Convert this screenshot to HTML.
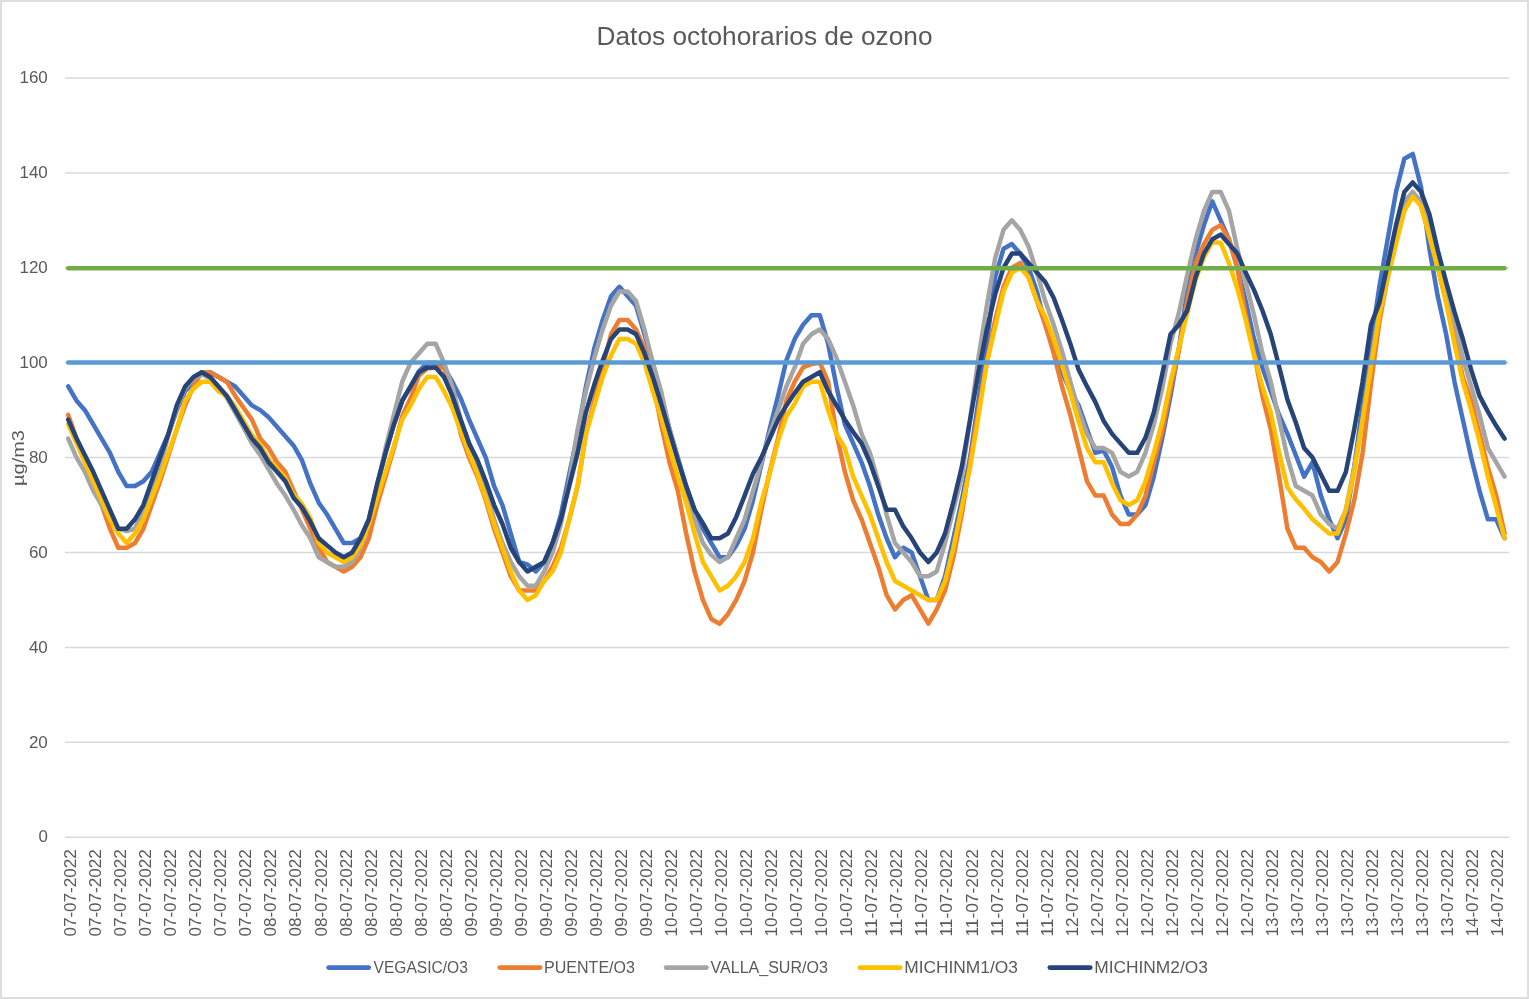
<!DOCTYPE html>
<html><head><meta charset="utf-8"><title>Datos octohorarios de ozono</title>
<style>
html,body{margin:0;padding:0;background:#fff;}
body{width:1529px;height:999px;overflow:hidden;font-family:"Liberation Sans", sans-serif;}
svg{display:block;will-change:transform;}
text{font-family:"Liberation Sans", sans-serif;fill:#595959;}
</style></head><body>
<svg width="1529" height="999" viewBox="0 0 1529 999">
<rect x="0" y="0" width="1529" height="999" fill="#ffffff"/>
<rect x="1" y="1" width="1527" height="997" fill="none" stroke="#DEDEDE" stroke-width="2"/>

<text x="764.5" y="45" font-size="25.6" text-anchor="middle" textLength="336" lengthAdjust="spacingAndGlyphs">Datos octohorarios de ozono</text>
<line x1="65.0" y1="837.20" x2="1509.0" y2="837.20" stroke="#D9D9D9" stroke-width="1.5"/>
<text x="47.8" y="842.40" font-size="16.8" text-anchor="end" textLength="9.4" lengthAdjust="spacingAndGlyphs">0</text>
<line x1="65.0" y1="742.30" x2="1509.0" y2="742.30" stroke="#D9D9D9" stroke-width="1.5"/>
<text x="47.8" y="747.50" font-size="16.8" text-anchor="end" textLength="18.9" lengthAdjust="spacingAndGlyphs">20</text>
<line x1="65.0" y1="647.40" x2="1509.0" y2="647.40" stroke="#D9D9D9" stroke-width="1.5"/>
<text x="47.8" y="652.60" font-size="16.8" text-anchor="end" textLength="18.9" lengthAdjust="spacingAndGlyphs">40</text>
<line x1="65.0" y1="552.50" x2="1509.0" y2="552.50" stroke="#D9D9D9" stroke-width="1.5"/>
<text x="47.8" y="557.70" font-size="16.8" text-anchor="end" textLength="18.9" lengthAdjust="spacingAndGlyphs">60</text>
<line x1="65.0" y1="457.60" x2="1509.0" y2="457.60" stroke="#D9D9D9" stroke-width="1.5"/>
<text x="47.8" y="462.80" font-size="16.8" text-anchor="end" textLength="18.9" lengthAdjust="spacingAndGlyphs">80</text>
<line x1="65.0" y1="362.70" x2="1509.0" y2="362.70" stroke="#D9D9D9" stroke-width="1.5"/>
<text x="47.8" y="367.90" font-size="16.8" text-anchor="end" textLength="28.3" lengthAdjust="spacingAndGlyphs">100</text>
<line x1="65.0" y1="267.80" x2="1509.0" y2="267.80" stroke="#D9D9D9" stroke-width="1.5"/>
<text x="47.8" y="273.00" font-size="16.8" text-anchor="end" textLength="28.3" lengthAdjust="spacingAndGlyphs">120</text>
<line x1="65.0" y1="172.90" x2="1509.0" y2="172.90" stroke="#D9D9D9" stroke-width="1.5"/>
<text x="47.8" y="178.10" font-size="16.8" text-anchor="end" textLength="28.3" lengthAdjust="spacingAndGlyphs">140</text>
<line x1="65.0" y1="78.00" x2="1509.0" y2="78.00" stroke="#D9D9D9" stroke-width="1.5"/>
<text x="47.8" y="83.20" font-size="16.8" text-anchor="end" textLength="28.3" lengthAdjust="spacingAndGlyphs">160</text>
<text transform="translate(24.3,458) rotate(-90)" font-size="16.9" text-anchor="middle" textLength="56" lengthAdjust="spacingAndGlyphs">µg/m3</text>
<text transform="translate(76.10,849.2) rotate(-90)" font-size="16.4" text-anchor="end" textLength="87.4" lengthAdjust="spacingAndGlyphs">07-07-2022</text>
<text transform="translate(101.14,849.2) rotate(-90)" font-size="16.4" text-anchor="end" textLength="87.4" lengthAdjust="spacingAndGlyphs">07-07-2022</text>
<text transform="translate(126.18,849.2) rotate(-90)" font-size="16.4" text-anchor="end" textLength="87.4" lengthAdjust="spacingAndGlyphs">07-07-2022</text>
<text transform="translate(151.22,849.2) rotate(-90)" font-size="16.4" text-anchor="end" textLength="87.4" lengthAdjust="spacingAndGlyphs">07-07-2022</text>
<text transform="translate(176.26,849.2) rotate(-90)" font-size="16.4" text-anchor="end" textLength="87.4" lengthAdjust="spacingAndGlyphs">07-07-2022</text>
<text transform="translate(201.30,849.2) rotate(-90)" font-size="16.4" text-anchor="end" textLength="87.4" lengthAdjust="spacingAndGlyphs">07-07-2022</text>
<text transform="translate(226.34,849.2) rotate(-90)" font-size="16.4" text-anchor="end" textLength="87.4" lengthAdjust="spacingAndGlyphs">07-07-2022</text>
<text transform="translate(251.38,849.2) rotate(-90)" font-size="16.4" text-anchor="end" textLength="87.4" lengthAdjust="spacingAndGlyphs">07-07-2022</text>
<text transform="translate(276.42,849.2) rotate(-90)" font-size="16.4" text-anchor="end" textLength="87.4" lengthAdjust="spacingAndGlyphs">08-07-2022</text>
<text transform="translate(301.46,849.2) rotate(-90)" font-size="16.4" text-anchor="end" textLength="87.4" lengthAdjust="spacingAndGlyphs">08-07-2022</text>
<text transform="translate(326.50,849.2) rotate(-90)" font-size="16.4" text-anchor="end" textLength="87.4" lengthAdjust="spacingAndGlyphs">08-07-2022</text>
<text transform="translate(351.53,849.2) rotate(-90)" font-size="16.4" text-anchor="end" textLength="87.4" lengthAdjust="spacingAndGlyphs">08-07-2022</text>
<text transform="translate(376.57,849.2) rotate(-90)" font-size="16.4" text-anchor="end" textLength="87.4" lengthAdjust="spacingAndGlyphs">08-07-2022</text>
<text transform="translate(401.61,849.2) rotate(-90)" font-size="16.4" text-anchor="end" textLength="87.4" lengthAdjust="spacingAndGlyphs">08-07-2022</text>
<text transform="translate(426.65,849.2) rotate(-90)" font-size="16.4" text-anchor="end" textLength="87.4" lengthAdjust="spacingAndGlyphs">08-07-2022</text>
<text transform="translate(451.69,849.2) rotate(-90)" font-size="16.4" text-anchor="end" textLength="87.4" lengthAdjust="spacingAndGlyphs">08-07-2022</text>
<text transform="translate(476.73,849.2) rotate(-90)" font-size="16.4" text-anchor="end" textLength="87.4" lengthAdjust="spacingAndGlyphs">09-07-2022</text>
<text transform="translate(501.77,849.2) rotate(-90)" font-size="16.4" text-anchor="end" textLength="87.4" lengthAdjust="spacingAndGlyphs">09-07-2022</text>
<text transform="translate(526.81,849.2) rotate(-90)" font-size="16.4" text-anchor="end" textLength="87.4" lengthAdjust="spacingAndGlyphs">09-07-2022</text>
<text transform="translate(551.85,849.2) rotate(-90)" font-size="16.4" text-anchor="end" textLength="87.4" lengthAdjust="spacingAndGlyphs">09-07-2022</text>
<text transform="translate(576.89,849.2) rotate(-90)" font-size="16.4" text-anchor="end" textLength="87.4" lengthAdjust="spacingAndGlyphs">09-07-2022</text>
<text transform="translate(601.93,849.2) rotate(-90)" font-size="16.4" text-anchor="end" textLength="87.4" lengthAdjust="spacingAndGlyphs">09-07-2022</text>
<text transform="translate(626.97,849.2) rotate(-90)" font-size="16.4" text-anchor="end" textLength="87.4" lengthAdjust="spacingAndGlyphs">09-07-2022</text>
<text transform="translate(652.01,849.2) rotate(-90)" font-size="16.4" text-anchor="end" textLength="87.4" lengthAdjust="spacingAndGlyphs">09-07-2022</text>
<text transform="translate(677.05,849.2) rotate(-90)" font-size="16.4" text-anchor="end" textLength="87.4" lengthAdjust="spacingAndGlyphs">10-07-2022</text>
<text transform="translate(702.09,849.2) rotate(-90)" font-size="16.4" text-anchor="end" textLength="87.4" lengthAdjust="spacingAndGlyphs">10-07-2022</text>
<text transform="translate(727.13,849.2) rotate(-90)" font-size="16.4" text-anchor="end" textLength="87.4" lengthAdjust="spacingAndGlyphs">10-07-2022</text>
<text transform="translate(752.17,849.2) rotate(-90)" font-size="16.4" text-anchor="end" textLength="87.4" lengthAdjust="spacingAndGlyphs">10-07-2022</text>
<text transform="translate(777.21,849.2) rotate(-90)" font-size="16.4" text-anchor="end" textLength="87.4" lengthAdjust="spacingAndGlyphs">10-07-2022</text>
<text transform="translate(802.25,849.2) rotate(-90)" font-size="16.4" text-anchor="end" textLength="87.4" lengthAdjust="spacingAndGlyphs">10-07-2022</text>
<text transform="translate(827.29,849.2) rotate(-90)" font-size="16.4" text-anchor="end" textLength="87.4" lengthAdjust="spacingAndGlyphs">10-07-2022</text>
<text transform="translate(852.32,849.2) rotate(-90)" font-size="16.4" text-anchor="end" textLength="87.4" lengthAdjust="spacingAndGlyphs">10-07-2022</text>
<text transform="translate(877.36,849.2) rotate(-90)" font-size="16.4" text-anchor="end" textLength="87.4" lengthAdjust="spacingAndGlyphs">11-07-2022</text>
<text transform="translate(902.40,849.2) rotate(-90)" font-size="16.4" text-anchor="end" textLength="87.4" lengthAdjust="spacingAndGlyphs">11-07-2022</text>
<text transform="translate(927.44,849.2) rotate(-90)" font-size="16.4" text-anchor="end" textLength="87.4" lengthAdjust="spacingAndGlyphs">11-07-2022</text>
<text transform="translate(952.48,849.2) rotate(-90)" font-size="16.4" text-anchor="end" textLength="87.4" lengthAdjust="spacingAndGlyphs">11-07-2022</text>
<text transform="translate(977.52,849.2) rotate(-90)" font-size="16.4" text-anchor="end" textLength="87.4" lengthAdjust="spacingAndGlyphs">11-07-2022</text>
<text transform="translate(1002.56,849.2) rotate(-90)" font-size="16.4" text-anchor="end" textLength="87.4" lengthAdjust="spacingAndGlyphs">11-07-2022</text>
<text transform="translate(1027.60,849.2) rotate(-90)" font-size="16.4" text-anchor="end" textLength="87.4" lengthAdjust="spacingAndGlyphs">11-07-2022</text>
<text transform="translate(1052.64,849.2) rotate(-90)" font-size="16.4" text-anchor="end" textLength="87.4" lengthAdjust="spacingAndGlyphs">11-07-2022</text>
<text transform="translate(1077.68,849.2) rotate(-90)" font-size="16.4" text-anchor="end" textLength="87.4" lengthAdjust="spacingAndGlyphs">12-07-2022</text>
<text transform="translate(1102.72,849.2) rotate(-90)" font-size="16.4" text-anchor="end" textLength="87.4" lengthAdjust="spacingAndGlyphs">12-07-2022</text>
<text transform="translate(1127.76,849.2) rotate(-90)" font-size="16.4" text-anchor="end" textLength="87.4" lengthAdjust="spacingAndGlyphs">12-07-2022</text>
<text transform="translate(1152.80,849.2) rotate(-90)" font-size="16.4" text-anchor="end" textLength="87.4" lengthAdjust="spacingAndGlyphs">12-07-2022</text>
<text transform="translate(1177.84,849.2) rotate(-90)" font-size="16.4" text-anchor="end" textLength="87.4" lengthAdjust="spacingAndGlyphs">12-07-2022</text>
<text transform="translate(1202.88,849.2) rotate(-90)" font-size="16.4" text-anchor="end" textLength="87.4" lengthAdjust="spacingAndGlyphs">12-07-2022</text>
<text transform="translate(1227.92,849.2) rotate(-90)" font-size="16.4" text-anchor="end" textLength="87.4" lengthAdjust="spacingAndGlyphs">12-07-2022</text>
<text transform="translate(1252.96,849.2) rotate(-90)" font-size="16.4" text-anchor="end" textLength="87.4" lengthAdjust="spacingAndGlyphs">12-07-2022</text>
<text transform="translate(1278.00,849.2) rotate(-90)" font-size="16.4" text-anchor="end" textLength="87.4" lengthAdjust="spacingAndGlyphs">13-07-2022</text>
<text transform="translate(1303.04,849.2) rotate(-90)" font-size="16.4" text-anchor="end" textLength="87.4" lengthAdjust="spacingAndGlyphs">13-07-2022</text>
<text transform="translate(1328.08,849.2) rotate(-90)" font-size="16.4" text-anchor="end" textLength="87.4" lengthAdjust="spacingAndGlyphs">13-07-2022</text>
<text transform="translate(1353.11,849.2) rotate(-90)" font-size="16.4" text-anchor="end" textLength="87.4" lengthAdjust="spacingAndGlyphs">13-07-2022</text>
<text transform="translate(1378.15,849.2) rotate(-90)" font-size="16.4" text-anchor="end" textLength="87.4" lengthAdjust="spacingAndGlyphs">13-07-2022</text>
<text transform="translate(1403.19,849.2) rotate(-90)" font-size="16.4" text-anchor="end" textLength="87.4" lengthAdjust="spacingAndGlyphs">13-07-2022</text>
<text transform="translate(1428.23,849.2) rotate(-90)" font-size="16.4" text-anchor="end" textLength="87.4" lengthAdjust="spacingAndGlyphs">13-07-2022</text>
<text transform="translate(1453.27,849.2) rotate(-90)" font-size="16.4" text-anchor="end" textLength="87.4" lengthAdjust="spacingAndGlyphs">13-07-2022</text>
<text transform="translate(1478.31,849.2) rotate(-90)" font-size="16.4" text-anchor="end" textLength="87.4" lengthAdjust="spacingAndGlyphs">14-07-2022</text>
<text transform="translate(1503.35,849.2) rotate(-90)" font-size="16.4" text-anchor="end" textLength="87.4" lengthAdjust="spacingAndGlyphs">14-07-2022</text>
<polyline points="68.20,386.43 76.55,400.66 84.90,410.15 93.25,424.39 101.60,438.62 109.96,452.86 118.31,471.84 126.66,486.07 135.01,486.07 143.36,481.33 151.71,471.84 160.06,452.86 168.41,433.88 176.76,410.15 185.11,391.17 193.47,381.68 201.82,372.19 210.17,372.19 218.52,376.94 226.87,381.68 235.22,386.43 243.57,395.92 251.92,405.41 260.27,410.15 268.62,417.27 276.98,426.76 285.33,436.25 293.68,445.74 302.03,460.45 310.38,483.70 318.73,502.68 327.08,514.54 335.43,528.78 343.78,543.01 352.13,543.01 360.49,538.27 368.84,519.29 377.19,486.07 385.54,452.86 393.89,424.39 402.24,400.66 410.59,386.43 418.94,371.24 427.29,362.70 435.64,362.70 444.00,367.45 452.35,381.68 460.70,398.29 469.05,419.64 477.40,438.62 485.75,457.60 494.10,486.07 502.45,505.05 510.80,533.52 519.15,561.99 527.51,564.36 535.86,571.48 544.21,561.99 552.56,543.01 560.91,514.54 569.26,474.21 577.61,433.88 585.96,386.43 594.31,348.47 602.66,320.00 611.02,296.27 619.37,286.78 627.72,296.27 636.07,305.76 644.42,334.23 652.77,362.70 661.12,395.92 669.47,429.13 677.82,457.60 686.17,486.07 694.53,509.80 702.88,528.78 711.23,543.01 719.58,557.25 727.93,557.25 736.28,545.38 744.63,528.78 752.98,500.31 761.33,464.72 769.68,429.13 778.04,395.92 786.39,360.33 794.74,338.98 803.09,324.74 811.44,315.25 819.79,315.25 828.14,343.72 836.49,386.43 844.84,424.39 853.19,443.37 861.55,462.35 869.90,486.07 878.25,514.54 886.60,538.27 894.95,557.25 903.30,547.76 911.65,552.50 920.00,576.23 928.35,599.95 936.70,599.95 945.06,576.23 953.41,538.27 961.76,500.31 970.11,457.60 978.46,400.66 986.81,343.72 995.16,277.29 1003.51,248.82 1011.86,244.08 1020.21,253.57 1028.57,267.80 1036.92,291.52 1045.27,324.74 1053.62,348.47 1061.97,372.19 1070.32,391.17 1078.67,405.41 1087.02,429.13 1095.37,452.86 1103.72,450.48 1112.08,467.09 1120.43,495.56 1128.78,514.54 1137.13,514.54 1145.48,505.05 1153.83,476.58 1162.18,438.62 1170.53,395.92 1178.88,348.47 1187.23,291.52 1195.59,253.57 1203.94,225.10 1212.29,201.37 1220.64,220.35 1228.99,239.33 1237.34,267.80 1245.69,301.01 1254.04,338.98 1262.39,367.45 1270.74,391.17 1279.10,414.90 1287.45,433.88 1295.80,455.23 1304.15,476.58 1312.50,462.35 1320.85,495.56 1329.20,519.29 1337.55,538.27 1345.90,519.29 1354.25,467.09 1362.61,405.41 1370.96,343.72 1379.31,286.78 1387.66,239.33 1396.01,191.88 1404.36,158.67 1412.71,153.92 1421.06,187.13 1429.41,248.82 1437.76,296.27 1446.12,334.23 1454.47,381.68 1462.82,419.64 1471.17,457.60 1479.52,490.82 1487.87,519.29 1496.22,519.29 1504.57,538.27" fill="none" stroke="#4472C4" stroke-width="4.5" stroke-linecap="round" stroke-linejoin="round"/>
<polyline points="68.20,414.90 76.55,438.62 84.90,457.60 93.25,481.33 101.60,505.05 109.96,528.78 118.31,547.76 126.66,547.76 135.01,543.01 143.36,528.78 151.71,505.05 160.06,481.33 168.41,455.23 176.76,429.13 185.11,405.41 193.47,386.43 201.82,372.19 210.17,372.19 218.52,376.94 226.87,381.68 235.22,395.92 243.57,407.78 251.92,419.64 260.27,438.62 268.62,448.11 276.98,462.35 285.33,471.84 293.68,490.82 302.03,509.80 310.38,528.78 318.73,547.76 327.08,561.99 335.43,566.74 343.78,571.48 352.13,566.74 360.49,557.25 368.84,538.27 377.19,505.05 385.54,476.58 393.89,448.11 402.24,416.32 410.59,398.29 418.94,375.51 427.29,368.39 435.64,367.45 444.00,367.45 452.35,395.92 460.70,433.88 469.05,457.60 477.40,476.58 485.75,500.31 494.10,528.78 502.45,552.50 510.80,576.23 519.15,590.46 527.51,590.46 535.86,590.46 544.21,580.97 552.56,566.74 560.91,547.76 569.26,519.29 577.61,486.07 585.96,433.88 594.31,400.66 602.66,367.45 611.02,334.23 619.37,320.00 627.72,320.00 636.07,329.49 644.42,348.47 652.77,381.68 661.12,424.39 669.47,462.35 677.82,490.82 686.17,533.52 694.53,571.48 702.88,599.95 711.23,618.93 719.58,623.68 727.93,614.19 736.28,599.95 744.63,580.97 752.98,552.50 761.33,509.80 769.68,471.84 778.04,438.62 786.39,400.66 794.74,381.68 803.09,367.45 811.44,364.12 819.79,362.70 828.14,381.68 836.49,433.88 844.84,471.84 853.19,500.31 861.55,519.29 869.90,543.01 878.25,566.74 886.60,595.21 894.95,609.44 903.30,599.95 911.65,595.21 920.00,609.44 928.35,623.68 936.70,609.44 945.06,590.46 953.41,557.25 961.76,514.54 970.11,462.35 978.46,410.15 986.81,362.70 995.16,320.00 1003.51,286.78 1011.86,267.80 1020.21,263.06 1028.57,277.29 1036.92,301.01 1045.27,324.74 1053.62,353.21 1061.97,386.43 1070.32,414.90 1078.67,448.11 1087.02,481.33 1095.37,495.56 1103.72,495.56 1112.08,514.54 1120.43,524.03 1128.78,524.03 1137.13,514.54 1145.48,495.56 1153.83,462.35 1162.18,431.50 1170.53,388.80 1178.88,350.84 1187.23,301.01 1195.59,263.06 1203.94,244.08 1212.29,229.84 1220.64,225.10 1228.99,239.33 1237.34,267.80 1245.69,315.25 1254.04,353.21 1262.39,395.92 1270.74,429.13 1279.10,476.58 1287.45,528.78 1295.80,547.76 1304.15,547.76 1312.50,557.25 1320.85,561.99 1329.20,571.48 1337.55,561.99 1345.90,533.52 1354.25,500.31 1362.61,452.86 1370.96,384.05 1379.31,322.37 1387.66,277.29 1396.01,239.33 1404.36,206.12 1412.71,191.88 1421.06,206.12 1429.41,234.59 1437.76,267.80 1446.12,301.01 1454.47,338.98 1462.82,376.94 1471.17,400.66 1479.52,433.88 1487.87,467.09 1496.22,495.56 1504.57,533.52" fill="none" stroke="#ED7D31" stroke-width="4.5" stroke-linecap="round" stroke-linejoin="round"/>
<polyline points="68.20,438.62 76.55,457.60 84.90,471.84 93.25,490.82 101.60,505.05 109.96,519.29 118.31,528.78 126.66,531.15 135.01,528.78 143.36,509.80 151.71,490.82 160.06,467.09 168.41,435.30 176.76,407.30 185.11,388.32 193.47,378.83 201.82,374.09 210.17,378.83 218.52,388.32 226.87,397.81 235.22,412.52 243.57,427.71 251.92,443.37 260.27,455.23 268.62,469.46 276.98,483.70 285.33,495.56 293.68,509.80 302.03,525.45 310.38,538.27 318.73,557.25 327.08,561.99 335.43,566.74 343.78,566.74 352.13,561.99 360.49,547.76 368.84,524.03 377.19,486.07 385.54,448.11 393.89,414.90 402.24,381.68 410.59,362.70 418.94,353.21 427.29,343.72 435.64,343.72 444.00,362.70 452.35,386.43 460.70,419.64 469.05,443.37 477.40,467.09 485.75,490.82 494.10,519.29 502.45,543.01 510.80,561.99 519.15,576.23 527.51,585.72 535.86,585.72 544.21,571.48 552.56,552.50 560.91,524.03 569.26,481.33 577.61,429.13 585.96,391.17 594.31,357.96 602.66,329.49 611.02,305.76 619.37,291.52 627.72,291.52 636.07,301.01 644.42,329.49 652.77,362.70 661.12,391.17 669.47,429.13 677.82,457.60 686.17,490.82 694.53,519.29 702.88,543.01 711.23,554.87 719.58,561.99 727.93,557.25 736.28,538.27 744.63,519.29 752.98,490.82 761.33,462.35 769.68,433.88 778.04,410.15 786.39,386.43 794.74,367.45 803.09,343.72 811.44,334.23 819.79,329.49 828.14,338.98 836.49,357.96 844.84,381.68 853.19,405.41 861.55,433.88 869.90,452.86 878.25,481.33 886.60,514.54 894.95,543.01 903.30,552.50 911.65,561.99 920.00,576.23 928.35,576.23 936.70,571.48 945.06,543.01 953.41,509.80 961.76,476.58 970.11,419.64 978.46,357.96 986.81,305.76 995.16,258.31 1003.51,229.84 1011.86,220.35 1020.21,229.84 1028.57,246.45 1036.92,272.55 1045.27,301.01 1053.62,324.74 1061.97,350.84 1070.32,381.68 1078.67,410.15 1087.02,433.88 1095.37,448.11 1103.72,448.11 1112.08,452.86 1120.43,471.84 1128.78,476.58 1137.13,471.84 1145.48,452.86 1153.83,424.39 1162.18,388.80 1170.53,343.72 1178.88,312.88 1187.23,274.92 1195.59,239.33 1203.94,210.86 1212.29,191.88 1220.64,191.88 1228.99,210.86 1237.34,248.82 1245.69,282.04 1254.04,315.25 1262.39,353.21 1270.74,381.68 1279.10,419.64 1287.45,457.60 1295.80,486.07 1304.15,490.82 1312.50,495.56 1320.85,514.54 1329.20,524.03 1337.55,528.78 1345.90,509.80 1354.25,467.09 1362.61,419.64 1370.96,362.70 1379.31,310.50 1387.66,267.80 1396.01,229.84 1404.36,201.37 1412.71,191.88 1421.06,201.37 1429.41,220.35 1437.76,253.57 1446.12,286.78 1454.47,320.00 1462.82,357.96 1471.17,386.43 1479.52,414.90 1487.87,448.11 1496.22,462.35 1504.57,476.58" fill="none" stroke="#A5A5A5" stroke-width="4.5" stroke-linecap="round" stroke-linejoin="round"/>
<polyline points="68.20,424.39 76.55,443.37 84.90,462.35 93.25,481.33 101.60,500.31 109.96,519.29 118.31,533.52 126.66,543.01 135.01,533.52 143.36,519.29 151.71,497.93 160.06,476.58 168.41,452.86 176.76,429.13 185.11,400.66 193.47,388.80 201.82,381.68 210.17,381.68 218.52,391.17 226.87,395.92 235.22,406.83 243.57,421.06 251.92,435.30 260.27,444.79 268.62,459.02 276.98,468.51 285.33,478.00 293.68,494.61 302.03,504.10 310.38,518.34 318.73,543.01 327.08,552.50 335.43,557.25 343.78,561.99 352.13,557.25 360.49,545.38 368.84,524.03 377.19,497.93 385.54,471.84 393.89,445.74 402.24,419.64 410.59,405.41 418.94,388.80 427.29,376.94 435.64,376.94 444.00,391.17 452.35,407.78 460.70,431.50 469.05,452.86 477.40,474.21 485.75,497.93 494.10,524.03 502.45,547.76 510.80,571.48 519.15,590.46 527.51,599.95 535.86,595.21 544.21,580.97 552.56,571.48 560.91,552.50 569.26,519.29 577.61,486.07 585.96,433.88 594.31,405.41 602.66,376.94 611.02,355.58 619.37,338.98 627.72,338.98 636.07,343.72 644.42,362.70 652.77,391.17 661.12,417.27 669.47,448.11 677.82,476.58 686.17,502.68 694.53,533.52 702.88,561.99 711.23,576.23 719.58,590.46 727.93,585.72 736.28,576.23 744.63,561.99 752.98,538.27 761.33,502.20 769.68,473.73 778.04,440.99 786.39,416.32 794.74,403.51 803.09,386.43 811.44,381.68 819.79,381.68 828.14,410.15 836.49,433.88 844.84,448.11 853.19,476.58 861.55,495.56 869.90,514.54 878.25,538.27 886.60,561.99 894.95,580.97 903.30,585.72 911.65,590.46 920.00,595.21 928.35,599.95 936.70,599.95 945.06,580.97 953.41,547.76 961.76,507.42 970.11,467.09 978.46,416.32 986.81,362.70 995.16,327.11 1003.51,291.52 1011.86,272.55 1020.21,267.80 1028.57,277.29 1036.92,301.01 1045.27,316.67 1053.62,338.98 1061.97,365.07 1070.32,392.59 1078.67,421.54 1087.02,448.11 1095.37,462.35 1103.72,462.35 1112.08,483.22 1120.43,500.31 1128.78,505.05 1137.13,500.31 1145.48,481.33 1153.83,452.86 1162.18,422.01 1170.53,381.68 1178.88,347.52 1187.23,312.88 1195.59,279.66 1203.94,256.89 1212.29,242.18 1220.64,242.65 1228.99,263.06 1237.34,288.68 1245.69,320.00 1254.04,355.58 1262.39,386.43 1270.74,412.52 1279.10,452.86 1287.45,487.49 1295.80,499.36 1304.15,508.85 1312.50,519.29 1320.85,526.40 1329.20,533.52 1337.55,533.52 1345.90,509.80 1354.25,471.84 1362.61,419.64 1370.96,367.45 1379.31,315.25 1387.66,278.71 1396.01,244.08 1404.36,210.86 1412.71,196.62 1421.06,206.12 1429.41,236.48 1437.76,267.80 1446.12,302.91 1454.47,343.72 1462.82,381.68 1471.17,410.15 1479.52,441.47 1487.87,476.58 1496.22,506.95 1504.57,538.27" fill="none" stroke="#FFC000" stroke-width="4.5" stroke-linecap="round" stroke-linejoin="round"/>
<polyline points="68.20,419.64 76.55,438.62 84.90,455.23 93.25,471.84 101.60,490.82 109.96,509.80 118.31,528.78 126.66,528.78 135.01,519.29 143.36,505.05 151.71,481.33 160.06,457.60 168.41,433.88 176.76,405.41 185.11,386.43 193.47,376.94 201.82,372.19 210.17,376.94 218.52,386.43 226.87,395.92 235.22,410.15 243.57,424.39 251.92,438.62 260.27,448.11 268.62,462.35 276.98,471.84 285.33,481.33 293.68,497.93 302.03,507.42 310.38,521.66 318.73,538.27 327.08,545.38 335.43,552.50 343.78,557.25 352.13,552.50 360.49,538.27 368.84,519.29 377.19,483.70 385.54,452.86 393.89,424.39 402.24,400.66 410.59,386.43 418.94,372.19 427.29,367.45 435.64,367.45 444.00,376.94 452.35,395.92 460.70,419.64 469.05,443.37 477.40,459.97 485.75,481.33 494.10,505.05 502.45,524.03 510.80,547.76 519.15,561.99 527.51,571.48 535.86,566.74 544.21,561.99 552.56,543.01 560.91,519.29 569.26,486.07 577.61,452.86 585.96,412.05 594.31,384.53 602.66,360.33 611.02,338.98 619.37,329.49 627.72,329.49 636.07,334.23 644.42,353.21 652.77,376.94 661.12,403.51 669.47,431.98 677.82,459.97 686.17,486.07 694.53,509.80 702.88,523.08 711.23,538.27 719.58,538.27 727.93,533.52 736.28,516.91 744.63,495.56 752.98,473.73 761.33,457.60 769.68,438.62 778.04,419.64 786.39,405.41 794.74,393.07 803.09,381.68 811.44,376.94 819.79,372.19 828.14,391.17 836.49,405.41 844.84,419.64 853.19,431.98 861.55,443.37 869.90,462.35 878.25,486.07 886.60,509.80 894.95,509.80 903.30,526.40 911.65,538.27 920.00,552.50 928.35,561.99 936.70,552.50 945.06,533.52 953.41,501.73 961.76,467.09 970.11,419.64 978.46,372.19 986.81,329.49 995.16,294.37 1003.51,267.80 1011.86,253.57 1020.21,253.57 1028.57,263.06 1036.92,272.55 1045.27,282.04 1053.62,297.69 1061.97,320.00 1070.32,343.72 1078.67,369.82 1087.02,386.43 1095.37,402.08 1103.72,421.06 1112.08,433.88 1120.43,443.37 1128.78,452.86 1137.13,452.86 1145.48,437.67 1153.83,412.52 1162.18,374.56 1170.53,334.23 1178.88,324.74 1187.23,310.50 1195.59,277.29 1203.94,253.57 1212.29,239.33 1220.64,234.59 1228.99,244.08 1237.34,253.57 1245.69,272.55 1254.04,290.10 1262.39,310.50 1270.74,334.23 1279.10,366.50 1287.45,399.71 1295.80,422.49 1304.15,448.11 1312.50,457.60 1320.85,474.21 1329.20,490.82 1337.55,490.82 1345.90,471.84 1354.25,429.13 1362.61,381.68 1370.96,324.74 1379.31,302.91 1387.66,264.48 1396.01,225.10 1404.36,191.88 1412.71,182.39 1421.06,191.88 1429.41,214.18 1437.76,250.24 1446.12,282.04 1454.47,311.93 1462.82,338.98 1471.17,369.82 1479.52,395.92 1487.87,411.57 1496.22,425.81 1504.57,438.62" fill="none" stroke="#264478" stroke-width="4.5" stroke-linecap="round" stroke-linejoin="round"/>
<line x1="68.20" y1="362.5" x2="1504.57" y2="362.5" stroke="#5B9BD5" stroke-width="4.5" stroke-linecap="round"/>
<line x1="68.20" y1="268.3" x2="1504.57" y2="268.3" stroke="#70AD47" stroke-width="4.5" stroke-linecap="round"/>
<line x1="328.6" y1="967.6" x2="368.8" y2="967.6" stroke="#4472C4" stroke-width="4.6" stroke-linecap="round"/>
<text x="373.6" y="973.2" font-size="17.1" textLength="94.3" lengthAdjust="spacingAndGlyphs">VEGASIC/O3</text>
<line x1="499.7" y1="967.6" x2="540.2" y2="967.6" stroke="#ED7D31" stroke-width="4.6" stroke-linecap="round"/>
<text x="544.1" y="973.2" font-size="17.1" textLength="90.8" lengthAdjust="spacingAndGlyphs">PUENTE/O3</text>
<line x1="666.1" y1="967.6" x2="706.5" y2="967.6" stroke="#A5A5A5" stroke-width="4.6" stroke-linecap="round"/>
<text x="710.5" y="973.2" font-size="17.1" textLength="117.4" lengthAdjust="spacingAndGlyphs">VALLA_SUR/O3</text>
<line x1="859.8" y1="967.6" x2="900.3" y2="967.6" stroke="#FFC000" stroke-width="4.6" stroke-linecap="round"/>
<text x="904.2" y="973.2" font-size="17.1" textLength="113.7" lengthAdjust="spacingAndGlyphs">MICHINM1/O3</text>
<line x1="1049.8" y1="967.6" x2="1090.3" y2="967.6" stroke="#264478" stroke-width="4.6" stroke-linecap="round"/>
<text x="1094.2" y="973.2" font-size="17.1" textLength="113.7" lengthAdjust="spacingAndGlyphs">MICHINM2/O3</text>
</svg></body></html>
